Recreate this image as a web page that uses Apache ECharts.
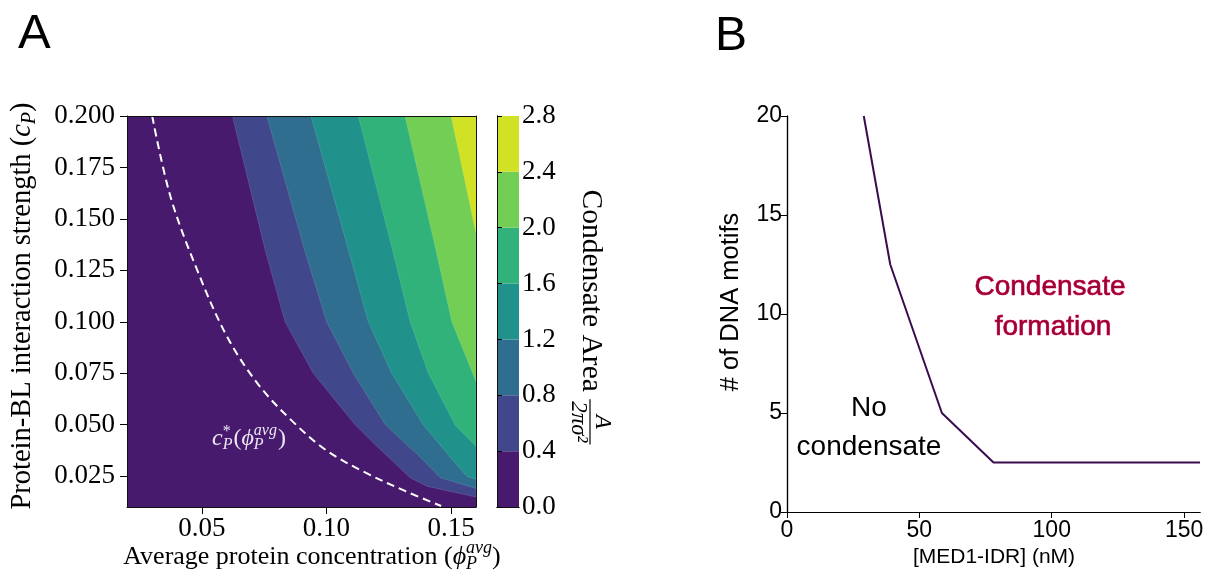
<!DOCTYPE html>
<html>
<head>
<meta charset="utf-8">
<script src="https://cdn.jsdelivr.net/npm/echarts@6/dist/echarts.min.js"></script>
<style>html,body{margin:0;padding:0;background:#fff}#c{width:1207px;height:575px}</style>
</head>
<body>
<div id="c"></div>
<script>
// ---------- Panel A data ----------
const xRangeA = [0.02, 0.16];
const yRangeA = [0.01, 0.2];
const xTicksA = [0.05, 0.10, 0.15];
const yTicksA = [0.025, 0.05, 0.075, 0.1, 0.125, 0.15, 0.175, 0.2];
const levels = [0, 0.4, 0.8, 1.2, 1.6, 2.0, 2.4, 2.8];
const bandColors = ['#471a6e', '#40478a', '#2f6e8e', '#21918c', '#31b27b', '#73ce55', '#d0e126'];
// contour boundaries (x, y)
const bound04 = [[0.0623,0.2],[0.0754,0.135],[0.0834,0.1],[0.0947,0.075],[0.1115,0.05],[0.1202,0.0395],[0.1336,0.0242],[0.1405,0.0200],[0.16,0.0148]];
const bound08 = [[0.0761,0.2],[0.0912,0.135],[0.1001,0.1],[0.1108,0.075],[0.1236,0.05],[0.1365,0.0355],[0.1456,0.0243],[0.16,0.019]];
const bound12 = [[0.0938,0.2],[0.1088,0.135],[0.1168,0.1],[0.1262,0.075],[0.1388,0.05],[0.1505,0.033],[0.1563,0.025],[0.16,0.0234]];
const bound16 = [[0.1128,0.2],[0.1265,0.135],[0.1336,0.1],[0.1409,0.075],[0.1518,0.0495],[0.16,0.0395]];
const bound20 = [[0.1315,0.2],[0.1439,0.135],[0.1503,0.1],[0.16,0.071]];
const bound24 = [[0.15,0.2],[0.16,0.143]];
const bounds = [bound04, bound08, bound12, bound16, bound20, bound24];
// dashed critical line c*_P(phi)
const cStar = [[0.0301,0.2],[0.0374,0.161],[0.0481,0.1253],[0.0601,0.0929],[0.0727,0.0695],[0.0865,0.0515],[0.1,0.0375],[0.1155,0.0268],[0.1315,0.0178],[0.146,0.0105]];

// ---------- Panel B data ----------
const med1 = [29, 39, 58.5, 78, 156];
const motifs = [20, 12.5, 5, 2.5, 2.5];
const xRangeB = [0, 156];
const yRangeB = [0, 20];
const xTicksB = [0, 50, 100, 150];

const SERIF = 'Liberation Serif';
const SANS = 'Liberation Sans';

const mctx = document.createElement('canvas').getContext('2d');
function tw(t, fs, fam, it) { mctx.font = (it ? 'italic ' : '') + fs + 'px "' + fam + '"'; return mctx.measureText(t).width; }
function txt(t, x, y, fs, it, fam, color, extra) {
  const st = {text: t, fontSize: fs, fontFamily: fam, fontStyle: it ? 'italic' : 'normal', fill: color,
    align: 'left', verticalAlign: 'middle'};
  if (extra) Object.assign(st, extra);
  return {type: 'text', x: x, y: y, z: 100, silent: true, style: st};
}
function mathGroup(items, opt) {
  const fam = opt.family, color = opt.color;
  let x = 0; const ch = [];
  items.forEach(it => {
    if (it.frac) {
      const n = it.frac[0], d = it.frac[1], fs = it.fs;
      const wn = tw(n, fs, fam, true), wd = tw(d, fs, fam, true);
      const w = Math.max(wn, wd) + 4;
      ch.push(txt(n, x + (w - wn) / 2, it.dyN, fs, true, fam, color));
      ch.push(txt(d, x + (w - wd) / 2, it.dyD, fs, true, fam, color));
      ch.push({type: 'rect', z: 100, silent: true, shape: {x: x, y: it.dyL - 0.6, width: w, height: 1.2}, style: {fill: color}});
      x += w + 2;
    } else {
      const list = it.stack || [it];
      let adv = 0;
      list.forEach(p => {
        const w = tw(p.t, p.fs, fam, p.it);
        ch.push(txt(p.t, x, p.dy || 0, p.fs, p.it, fam, color));
        adv = Math.max(adv, w);
      });
      x += adv + (it.gap || 0);
    }
  });
  ch.forEach(c => { if (c.type === 'text') c.x -= x / 2; else c.shape.x -= x / 2; });
  return {type: 'group', x: opt.x, y: opt.y, z: 100, rotation: opt.rot || 0, children: ch};
}

const yTitleB = txt('# of DNA motifs', 731, 302, 25.5, false, SANS, '#000', {align: 'center'});
yTitleB.rotation = Math.PI / 2;

const graphics = [
  // panel letters
  txt('A', 18, 34, 49, false, SANS, '#000'),
  txt('B', 715, 37, 48, false, SANS, '#000'),
  // panel A y title
  mathGroup([
    {t: 'Protein-BL interaction strength (', fs: 28.5},
    {t: 'c', fs: 28.5, it: true},
    {t: 'P', fs: 20, it: true, dy: 7},
    {t: ')', fs: 28.5}
  ], {family: SERIF, color: '#000', x: 23, y: 306, rot: Math.PI / 2}),
  // panel A x title
  mathGroup([
    {t: 'Average protein concentration (', fs: 26},
    {t: 'ϕ', fs: 26, it: true},
    {stack: [{t: 'avg', fs: 18, it: true, dy: -9}, {t: 'P', fs: 18, it: true, dy: 7}]},
    {t: ')', fs: 26}
  ], {family: SERIF, color: '#000', x: 312, y: 557}),
  // colorbar title
  mathGroup([
    {t: 'Condensate Area ', fs: 29.5},
    {frac: ['A', '2πσ²'], fs: 23, dyN: -11, dyD: 13, dyL: 1}
  ], {family: SERIF, color: '#000', x: 591, y: 318, rot: -Math.PI / 2}),
  // c* label
  mathGroup([
    {t: 'c', fs: 24, it: true},
    {stack: [{t: '*', fs: 16, dy: -7}, {t: 'P', fs: 16, it: true, dy: 6}], gap: 1},
    {t: '(', fs: 24},
    {t: 'ϕ', fs: 24, it: true},
    {stack: [{t: 'avg', fs: 16, it: true, dy: -8}, {t: 'P', fs: 16, it: true, dy: 6}], gap: 1},
    {t: ')', fs: 24}
  ], {family: SERIF, color: '#ece6f2', x: 249, y: 439}),
  // panel B annotations
  txt('No', 869, 408, 28, false, SANS, '#000', {align: 'center'}),
  txt('condensate', 869, 447, 28, false, SANS, '#000', {align: 'center'}),
  txt('Condensate', 1050, 287, 28, false, SANS, '#9c0036', {align: 'center', stroke: '#dc004c', lineWidth: 0.7}),
  txt('formation', 1053, 327, 28, false, SANS, '#9c0036', {align: 'center', stroke: '#dc004c', lineWidth: 0.7}),
  // panel B titles
  yTitleB,
  txt('[MED1-IDR] (nM)', 994, 557, 21, false, SANS, '#000', {align: 'center'})
];

const lineOnly = {axisLine: {show: true, lineStyle: {color: '#111', width: 1}}, axisTick: {show: false}, axisLabel: {show: false}, splitLine: {show: false}, z: 5};
const labA = {fontFamily: SERIF, fontSize: 27, color: '#000'};
const labB = {fontFamily: SANS, fontSize: 23, color: '#000'};

const option = {
  animation: false,
  backgroundColor: '#fff',
  grid: [
    {left: 127, top: 116, width: 349, height: 391},
    {left: 497, top: 116, width: 22, height: 391},
    {left: 787, top: 116, width: 413, height: 396}
  ],
  xAxis: [
    Object.assign({}, lineOnly, {gridIndex: 0, type: 'value', min: xRangeA[0], max: xRangeA[1], position: 'bottom',
      axisTick: {show: true, length: 7, customValues: xTicksA, lineStyle: {color: '#000'}},
      axisLabel: Object.assign({show: true, margin: 8, customValues: xTicksA, formatter: v => v.toFixed(2)}, labA)}),
    Object.assign({}, lineOnly, {gridIndex: 0, type: 'value', min: xRangeA[0], max: xRangeA[1], position: 'top'}),
    Object.assign({}, lineOnly, {gridIndex: 1, type: 'value', min: 0, max: 1, position: 'bottom'}),
    Object.assign({}, lineOnly, {gridIndex: 1, type: 'value', min: 0, max: 1, position: 'top'}),
    Object.assign({}, lineOnly, {gridIndex: 2, type: 'value', min: xRangeB[0], max: xRangeB[1], position: 'bottom',
      axisLine: {show: true, lineStyle: {color: '#000', width: 1.2}},
      axisTick: {show: true, length: 6, customValues: xTicksB, lineStyle: {color: '#000'}},
      axisLabel: Object.assign({show: true, margin: 7, customValues: xTicksB}, labB)}),
    Object.assign({}, lineOnly, {gridIndex: 2, type: 'value', min: xRangeB[0], max: xRangeB[1], position: 'top',
      axisLine: {show: true, lineStyle: {color: '#000', width: 1.2}}})
  ],
  yAxis: [
    Object.assign({}, lineOnly, {gridIndex: 0, type: 'value', min: yRangeA[0], max: yRangeA[1], position: 'left',
      axisTick: {show: true, length: 7, customValues: yTicksA, lineStyle: {color: '#000'}},
      axisLabel: Object.assign({show: true, margin: 12, customValues: yTicksA, formatter: v => v.toFixed(3)}, labA)}),
    Object.assign({}, lineOnly, {gridIndex: 0, type: 'value', min: yRangeA[0], max: yRangeA[1], position: 'right'}),
    Object.assign({}, lineOnly, {gridIndex: 1, type: 'value', min: 0, max: 2.8, position: 'left'}),
    Object.assign({}, lineOnly, {gridIndex: 1, type: 'value', min: 0, max: 2.8, interval: 0.4, position: 'right',
      axisTick: {show: true, length: 5, lineStyle: {color: '#000'}},
      axisLabel: Object.assign({show: true, margin: 3, formatter: v => v.toFixed(1)}, labA)}),
    Object.assign({}, lineOnly, {gridIndex: 2, type: 'value', min: yRangeB[0], max: yRangeB[1], interval: 5, position: 'left',
      axisLine: {show: true, lineStyle: {color: '#000', width: 1.2}},
      axisTick: {show: true, length: 6, lineStyle: {color: '#000'}},
      axisLabel: Object.assign({show: true, margin: 5}, labB)}),
    Object.assign({}, lineOnly, {gridIndex: 2, type: 'value', min: yRangeB[0], max: yRangeB[1], position: 'right',
      axisLine: {show: true, lineStyle: {color: '#000', width: 1.2}}})
  ],
  series: [
    {
      type: 'custom', xAxisIndex: 0, yAxisIndex: 0, clip: true, silent: true,
      data: bandColors.map((c, i) => [i]),
      renderItem: (params, api) => {
        const i = params.dataIndex;
        let pts;
        if (i === 0) pts = [[xRangeA[0], yRangeA[0]], [xRangeA[1], yRangeA[0]], [xRangeA[1], yRangeA[1]], [xRangeA[0], yRangeA[1]]];
        else pts = bounds[i - 1].concat([[xRangeA[1], yRangeA[1]]]);
        return {type: 'polygon', shape: {points: pts.map(p => api.coord(p))},
          style: {fill: bandColors[i], stroke: i ? 'rgba(255,255,255,0.22)' : null, lineWidth: 0.6}};
      }
    },
    {
      type: 'line', xAxisIndex: 0, yAxisIndex: 0, data: cStar, smooth: 0.35, symbol: 'none', silent: true,
      lineStyle: {color: '#fff', width: 2, type: [8, 5]}, z: 3
    },
    {
      type: 'custom', xAxisIndex: 2, yAxisIndex: 2, silent: true,
      data: bandColors.map((c, i) => [levels[i], levels[i + 1]]),
      renderItem: (params, api) => {
        const lo = api.value(0), hi = api.value(1);
        const p0 = api.coord([0, hi]), p1 = api.coord([1, lo]);
        return {type: 'rect', shape: {x: p0[0], y: p0[1], width: p1[0] - p0[0], height: p1[1] - p0[1]},
          style: {fill: bandColors[params.dataIndex]}};
      }
    },
    {
      type: 'line', xAxisIndex: 4, yAxisIndex: 4, data: med1.map((x, i) => [x, motifs[i]]),
      symbol: 'none', silent: true, lineStyle: {color: '#3a0b4e', width: 2}
    }
  ],
  graphic: {elements: graphics}
};
const chart = echarts.init(document.getElementById('c'), null, {renderer: 'canvas'});
chart.setOption(option);
</script>
</body>
</html>
